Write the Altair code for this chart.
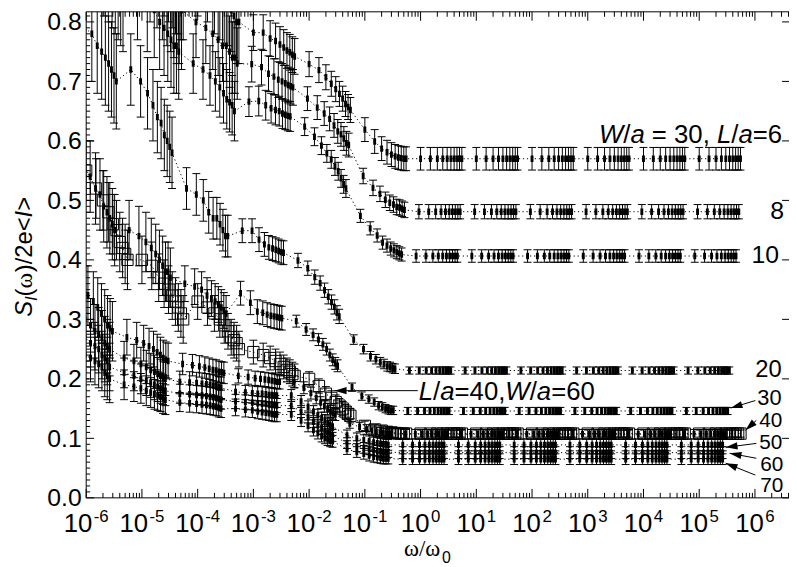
import altair as alt
import pandas as pd
import math

FONT = "Liberation Sans"
SERIF = "Liberation Serif"

# ---------------- data ----------------
FREQ_MULT = [1, 1.5, 2, 2.5, 3, 3.5, 4, 4.5, 5, 5.5]
DECADES = [-6, -5, -4, -3, -2, -1, 0, 1, 2, 3, 4, 5]

SERIES = ["L/a=6", "L/a=8", "L/a=10", "L/a=20", "L/a=30", "L/a=40,W/a=60",
          "L/a=40", "L/a=50", "L/a=60", "L/a=70"]
SERIES_SHIFT = [0.0, -0.03, -0.08, -0.2, -0.23, 0.0, -0.27, -0.32, -0.32, -0.32]
SERIES_MARK = ["bar", "bar", "bar", "bar", "bar", "square", "bar", "bar", "bar", "bar"]

L6_Y = [[1.10, 1.08, 1.06, 1.05, 1.04, 1.03, 1.02, 1.01, 1.00, 0.99],
        [1.00, 0.99, 0.97, 0.96, 0.95, 0.94, 0.93, 0.93, 0.92, 0.92],
        [0.88, 0.87, 0.85, 0.84, 0.83, 0.83, 0.82, 0.81, 0.80, 0.80],
        [0.782, 0.782, 0.772, 0.768, 0.762, 0.757, 0.752, 0.749, 0.745, 0.742],
        [0.729, 0.719, 0.707, 0.696, 0.687, 0.679, 0.671, 0.662, 0.657, 0.652],
        [0.619, 0.599, 0.587, 0.581, 0.577, 0.574, 0.572, 0.571, 0.570, 0.570],
        0.570, 0.570, 0.570, 0.570, 0.570, 0.570]
L6_ERR = [0.12, 0.15, 0.07, 0.03, 0.021, 0.02, 0.019, 0.019, 0.019, 0.019, 0.019, 0.019]

L8_Y = [[1.02, 1.00, 0.99, 0.98, 0.97, 0.96, 0.96, 0.95, 0.95, 0.94],
        [0.92, 0.90, 0.89, 0.87, 0.86, 0.85, 0.84, 0.83, 0.83, 0.82],
        [0.80, 0.79, 0.78, 0.77, 0.76, 0.76, 0.75, 0.74, 0.74, 0.73],
        [0.729, 0.724, 0.713, 0.708, 0.703, 0.700, 0.697, 0.694, 0.692, 0.690],
        [0.671, 0.656, 0.646, 0.637, 0.626, 0.616, 0.611, 0.604, 0.596, 0.593],
        [0.541, 0.521, 0.511, 0.501, 0.496, 0.493, 0.489, 0.488, 0.486, 0.484],
        0.481, 0.481, 0.481, 0.481, 0.481, 0.481]
L8_ERR = [0.12, 0.1, 0.06, 0.03, 0.02, 0.013, 0.012, 0.012, 0.012, 0.012, 0.012, 0.012]

L10_Y = [[0.95, 0.94, 0.92, 0.91, 0.90, 0.89, 0.88, 0.87, 0.86, 0.85],
         [0.85, 0.83, 0.82, 0.80, 0.79, 0.78, 0.77, 0.76, 0.76, 0.75],
         [0.73, 0.72, 0.71, 0.70, 0.69, 0.68, 0.67, 0.665, 0.66, 0.65],
         [0.666, 0.667, 0.660, 0.655, 0.652, 0.650, 0.646, 0.644, 0.642, 0.641],
         [0.624, 0.607, 0.592, 0.579, 0.569, 0.557, 0.549, 0.537, 0.527, 0.520],
         [0.474, 0.453, 0.441, 0.429, 0.424, 0.419, 0.416, 0.413, 0.411, 0.409],
         0.4065, 0.4065, 0.4065, 0.4065, 0.4065, 0.4065]
L10_ERR = [0.1, 0.08, 0.05, 0.025, 0.015, 0.011, 0.0105, 0.0105, 0.0105, 0.0105, 0.0105, 0.0105]

L20_Y = [[0.80, 0.79, 0.78, 0.76, 0.75, 0.74, 0.73, 0.72, 0.71, 0.70],
         [0.72, 0.70, 0.68, 0.66, 0.64, 0.63, 0.61, 0.60, 0.59, 0.58],
         [0.52, 0.51, 0.50, 0.48, 0.47, 0.47, 0.46, 0.45, 0.44, 0.44],
         [0.449, 0.449, 0.434, 0.426, 0.421, 0.419, 0.417, 0.415, 0.413, 0.412],
         [0.399, 0.386, 0.371, 0.361, 0.349, 0.338, 0.329, 0.321, 0.311, 0.305],
         [0.266, 0.250, 0.238, 0.233, 0.228, 0.225, 0.221, 0.220, 0.218, 0.217],
         0.214, 0.214, 0.214, 0.214, 0.214, 0.214]
L20_ERR = [0.08, 0.06, 0.035, 0.02, 0.012, 0.008, 0.006, 0.006, 0.006, 0.006, 0.006, 0.006]

L30_Y = [[0.58, 0.56, 0.54, 0.52, 0.51, 0.49, 0.48, 0.47, 0.46, 0.45],
         [0.45, 0.44, 0.43, 0.42, 0.41, 0.40, 0.39, 0.38, 0.38, 0.37],
         [0.36, 0.355, 0.35, 0.34, 0.335, 0.33, 0.325, 0.32, 0.315, 0.31],
         [0.344, 0.328, 0.313, 0.311, 0.308, 0.306, 0.305, 0.304, 0.303, 0.302],
         [0.297, 0.283, 0.274, 0.266, 0.258, 0.250, 0.240, 0.232, 0.226, 0.222],
         [0.186, 0.171, 0.166, 0.161, 0.155, 0.153, 0.150, 0.148, 0.147, 0.147],
         0.146, 0.146, 0.146, 0.146, 0.146, 0.146]
L30_ERR = [0.06, 0.05, 0.03, 0.02, 0.01, 0.007, 0.006, 0.006, 0.006, 0.006, 0.006, 0.006]

L40W60_Y = [[0.55, 0.52, 0.50, 0.48, 0.46, 0.45, 0.43, 0.42, 0.41, 0.40],
            [0.40, 0.39, 0.37, 0.36, 0.35, 0.34, 0.33, 0.32, 0.31, 0.30],
            [0.33, 0.32, 0.31, 0.30, 0.29, 0.28, 0.27, 0.265, 0.26, 0.25],
            [0.245, 0.24, 0.235, 0.23, 0.225, 0.22, 0.215, 0.212, 0.208, 0.205],
            [0.200, 0.188, 0.175, 0.168, 0.161, 0.155, 0.150, 0.145, 0.141, 0.138],
            [0.121, 0.115, 0.113, 0.111, 0.110, 0.109, 0.108, 0.108, 0.108, 0.108],
            0.108, 0.108, 0.108, 0.108, 0.108, 0.108]
L40W60_ERR = [0.05, 0.04, 0.03, 0.02, 0.012, 0.008, 0.006, 0.006, 0.006, 0.006, 0.006, 0.006]

L40_Y = [[0.36, 0.35, 0.34, 0.33, 0.32, 0.31, 0.30, 0.29, 0.285, 0.28],
         [0.27, 0.265, 0.26, 0.255, 0.25, 0.245, 0.24, 0.235, 0.232, 0.23],
         [0.225, 0.223, 0.221, 0.219, 0.217, 0.215, 0.214, 0.212, 0.211, 0.21],
         [0.205, 0.203, 0.201, 0.200, 0.199, 0.198, 0.197, 0.196, 0.195, 0.195],
         [0.195, 0.185, 0.176, 0.168, 0.160, 0.154, 0.149, 0.145, 0.142, 0.140],
         [0.125, 0.119, 0.115, 0.113, 0.111, 0.110, 0.109, 0.108, 0.108, 0.108],
         0.107, 0.107, 0.107, 0.107, 0.107, 0.107]
L40_ERR = [0.05, 0.03, 0.018, 0.012, 0.01, 0.008, 0.008, 0.008, 0.008, 0.008, 0.008, 0.008]

L50_Y = [[0.32, 0.31, 0.30, 0.29, 0.28, 0.275, 0.27, 0.26, 0.255, 0.25],
         [0.235, 0.23, 0.225, 0.22, 0.215, 0.212, 0.208, 0.205, 0.202, 0.20],
         [0.195, 0.194, 0.193, 0.192, 0.191, 0.19, 0.189, 0.188, 0.186, 0.185],
         [0.178, 0.177, 0.176, 0.175, 0.175, 0.174, 0.173, 0.173, 0.172, 0.172],
         [0.172, 0.162, 0.153, 0.145, 0.139, 0.134, 0.130, 0.126, 0.123, 0.120],
         [0.105, 0.100, 0.097, 0.095, 0.093, 0.092, 0.091, 0.090, 0.090, 0.089],
         0.089, 0.089, 0.089, 0.089, 0.089, 0.089]
L50_ERR = [0.045, 0.028, 0.018, 0.012, 0.01, 0.009, 0.01, 0.01, 0.01, 0.01, 0.01, 0.01]

L60_Y = [[0.29, 0.28, 0.27, 0.26, 0.255, 0.25, 0.24, 0.235, 0.23, 0.22],
         [0.21, 0.205, 0.20, 0.197, 0.194, 0.19, 0.187, 0.184, 0.182, 0.18],
         [0.175, 0.174, 0.173, 0.172, 0.171, 0.17, 0.169, 0.168, 0.166, 0.165],
         [0.162, 0.161, 0.160, 0.159, 0.158, 0.158, 0.157, 0.156, 0.156, 0.155],
         [0.155, 0.145, 0.136, 0.128, 0.122, 0.117, 0.113, 0.110, 0.107, 0.105],
         [0.092, 0.087, 0.084, 0.082, 0.080, 0.079, 0.078, 0.077, 0.077, 0.077],
         0.076, 0.076, 0.076, 0.076, 0.076, 0.076]
L60_ERR = [0.04, 0.025, 0.016, 0.012, 0.01, 0.009, 0.01, 0.01, 0.01, 0.01, 0.01, 0.01]

L70_Y = [[0.26, 0.25, 0.24, 0.235, 0.23, 0.225, 0.22, 0.21, 0.205, 0.20],
         [0.19, 0.187, 0.184, 0.18, 0.177, 0.174, 0.172, 0.17, 0.167, 0.165],
         [0.16, 0.159, 0.158, 0.157, 0.156, 0.155, 0.154, 0.153, 0.151, 0.15],
         [0.150, 0.148, 0.147, 0.145, 0.144, 0.143, 0.142, 0.141, 0.140, 0.140],
         [0.140, 0.130, 0.121, 0.114, 0.109, 0.104, 0.101, 0.098, 0.096, 0.095],
         [0.082, 0.077, 0.074, 0.071, 0.069, 0.068, 0.067, 0.066, 0.066, 0.066],
         0.065, 0.065, 0.065, 0.065, 0.065, 0.065]
L70_ERR = [0.04, 0.025, 0.015, 0.012, 0.01, 0.009, 0.009, 0.009, 0.009, 0.009, 0.009, 0.009]

SERIES_Y = [L6_Y, L8_Y, L10_Y, L20_Y, L30_Y, L40W60_Y, L40_Y, L50_Y, L60_Y, L70_Y]
SERIES_ERR = [L6_ERR, L8_ERR, L10_ERR, L20_ERR, L30_ERR, L40W60_ERR, L40_ERR, L50_ERR, L60_ERR, L70_ERR]

Y_TICKS = [0.0, 0.1, 0.2, 0.3, 0.4, 0.5, 0.6, 0.7, 0.8]
X_EXPONENTS = [-6, -5, -4, -3, -2, -1, 0, 1, 2, 3, 4, 5, 6]
END_LABELS = ["8", "10", "20", "30", "40", "50", "60", "70"]

# ---------------- layout ----------------
OX, OY = 87, 9            # page position of plot origin
W, H = 710, 491           # plot area
DEC = 56.3                # pixels per decade
XMAX = 10 ** (-6 + W / DEC)
YMAX = H / 601.0

rows = []
for name, shift, ys, errs, kind in zip(SERIES, SERIES_SHIFT, SERIES_Y, SERIES_ERR, SERIES_MARK):
    for k, yv, ev in zip(DECADES, ys, errs):
        vals = yv if isinstance(yv, list) else [yv] * len(FREQ_MULT)
        for m, v in zip(FREQ_MULT, vals):
            f = m * 10 ** (k + shift)
            rows.append(dict(series=name, kind=kind, f=f, v=v, lo=v - ev, hi=v + ev))
df = pd.DataFrame(rows)

XS = alt.Scale(type="log", domain=[1e-6, XMAX], nice=False)
YS = alt.Scale(domain=[0, YMAX], nice=False, zero=False)
YAXIS = alt.Axis(values=Y_TICKS, format=".1f", labelFont=FONT, labelFontSize=25,
                 labelColor="black", labelPadding=5, ticks=False, domain=False,
                 grid=False, title=None, labelOverlap=False)

def xenc(field):
    return alt.X(field, type="quantitative", scale=XS, axis=None)

def yenc(field):
    return alt.Y(field, type="quantitative", scale=YS, axis=YAXIS)

layers = []
base = alt.Chart(df)

# dotted connecting lines
layers.append(base.mark_line(color="black", strokeWidth=1, strokeDash=[1.2, 2.8], clip=True).encode(
    x=xenc("f"), y=yenc("v"), detail="series:N", order="f:Q"))
# error bars
layers.append(base.mark_rule(color="black", strokeWidth=1, clip=True).encode(
    x=xenc("f"), y=yenc("lo"), y2=alt.Y2("hi")))
for fld in ["lo", "hi"]:
    layers.append(base.mark_point(shape="stroke", size=64, color="black", strokeWidth=1,
                                  opacity=1, clip=True).encode(x=xenc("f"), y=yenc(fld)))
# markers
bars = base.transform_filter(alt.datum.kind == "bar")
layers.append(bars.mark_point(shape="M-0.45,-1L0.45,-1L0.45,1L-0.45,1Z", size=42, filled=True,
                              color="black", opacity=1, clip=True).encode(x=xenc("f"), y=yenc("v")))
sq = base.transform_filter(alt.datum.kind == "square")
layers.append(sq.mark_point(shape="square", size=130, filled=False, color="black",
                            strokeWidth=1, opacity=1, clip=True).encode(x=xenc("f"), y=yenc("v")))

# ---------------- frame and inward ticks ----------------
DUMMY = pd.DataFrame({"d": [0]})
def hline(x1, x2, y):
    return alt.Chart(DUMMY).mark_rule(color="black", strokeWidth=1).encode(
        x=alt.value(x1), x2=alt.value(x2), y=alt.value(y))
def vline(x, y1, y2):
    return alt.Chart(DUMMY).mark_rule(color="black", strokeWidth=1).encode(
        x=alt.value(x), y=alt.value(y1), y2=alt.value(y2))

layers += [hline(0, W, H), hline(0, W, 0), vline(0, 0, H)]

y_major = pd.DataFrame({"t": Y_TICKS})
y_minor = pd.DataFrame({"t": [i / 100 for i in range(1, 82) if i % 10 != 0]})
layers.append(alt.Chart(y_major).mark_rule(color="black").encode(y=yenc("t"), x=alt.value(0), x2=alt.value(8)))
layers.append(alt.Chart(y_minor).mark_rule(color="black").encode(y=yenc("t"), x=alt.value(0), x2=alt.value(4)))
layers.append(alt.Chart(y_major).mark_rule(color="black").encode(y=yenc("t"), x=alt.value(W - 7), x2=alt.value(W)))

x_major = pd.DataFrame({"t": [10.0 ** k for k in X_EXPONENTS]})
x_minor = pd.DataFrame({"t": [m * 10.0 ** k for k in X_EXPONENTS for m in range(2, 10) if m * 10.0 ** k < XMAX]})
for y1, y2a, y2b in [(H, H - 9, H - 5), (0, 9, 5)]:
    layers.append(alt.Chart(x_major).mark_rule(color="black").encode(x=xenc("t"), y=alt.value(y1), y2=alt.value(y2a)))
    layers.append(alt.Chart(x_minor).mark_rule(color="black").encode(x=xenc("t"), y=alt.value(y1), y2=alt.value(y2b)))

# ---------------- text helpers ----------------
WID = {' ': 278, ',': 278, '/': 278, '=': 584, 'W': 944, 'a': 556, 'L': 556, 'S': 667, 'I': 278,
       '(': 333, ')': 333, 'e': 556, '<': 584, '>': 584, '-': 333, '.': 278, 'ω': 690}
def tw(s, size):
    return sum(WID.get(c, 556) for c in s) * size / 1000.0

def txt(s, px, py, size=26, italic=False, font=FONT, align="left", angle=0):
    return alt.Chart(DUMMY).mark_text(text=s, font=font, fontSize=size,
                                      fontStyle="italic" if italic else "normal",
                                      align=align, baseline="alphabetic", angle=angle,
                                      color="black").encode(x=alt.value(px), y=alt.value(py))

def rich(pieces, x0, y0, size=26):
    out = []
    x = x0
    for s, it in pieces:
        lead = len(s) - len(s.lstrip(" "))
        out.append(txt(s.strip(" "), x + tw(" " * lead, size) - OX, y0 - OY, size=size, italic=it))
        x += tw(s, size)
    return out

# x tick labels: "10" + superscript exponent, centred on the decade
GAP = 1.5
lab_rows = []
for k in X_EXPONENTS:
    e = str(k)
    w10, we = tw("10", 26), tw(e, 17)
    join = k + (w10 - (w10 + we + GAP) / 2) / DEC
    lab_rows.append(dict(j=10 ** join, je=10 ** (join + GAP / DEC), e=e))
lab_df = pd.DataFrame(lab_rows)
layers.append(alt.Chart(lab_df).mark_text(text="10", font=FONT, fontSize=26, align="right",
                                          baseline="alphabetic", color="black").encode(
    x=xenc("j"), y=alt.value(535 - OY)))
layers.append(alt.Chart(lab_df).mark_text(font=FONT, fontSize=17, align="left",
                                          baseline="alphabetic", color="black").encode(
    x=xenc("je"), y=alt.value(524 - OY), text="e:N"))

# x title
layers.append(txt("ω/ω", 408 - OX, 559 - OY, size=23, font=SERIF))
layers.append(txt("0", 408 + 38.5 - OX, 566 - OY, size=16))

# y title (rotated pieces, reading upward)
yb, xb = 317, 32
ypieces = [("S", 24, True, FONT, 0), ("I", 16, True, FONT, 5), ("(", 24, False, FONT, 0),
           ("ω", 24, False, SERIF, 0), (")/2e<", 24, False, FONT, 0), ("I", 24, True, FONT, 0),
           (">", 24, False, FONT, 0)]
for s, sz, it, fnt, dx in ypieces:
    layers.append(txt(s, xb + dx - OX, yb - OY, size=sz, italic=it, font=fnt, angle=270))
    yb -= tw(s, sz) if s != "ω" else 16.5

# annotations
layers += rich([("W", True), ("/", False), ("a", True), (" = 30, ", False), ("L", True),
                ("/", False), ("a", True), ("=6", False)], 605, 141.5)
layers += rich([("L", True), ("/", False), ("a", True), ("=40,", False), ("W", True),
                ("/", False), ("a", True), ("=60", False)], 423, 401)
END_POS = [(778, 218, 25), (759, 263, 25), (763, 378, 24), (765, 406, 22), (767, 428, 21),
           (767, 450.5, 21), (768, 472.5, 21), (768, 494.5, 21)]
for s, (px, py, sz) in zip(END_LABELS, END_POS):
    layers.append(txt(s, px - OX, py - OY, size=sz))

# arrows: (tail x, tail y, tip x, tip y) in page pixels
ARROWS = [(422, 391.7, 338, 391.7), (763, 401.7, 738, 409.3), (764, 421.7, 753, 431.7),
          (764, 445, 733, 449), (764, 460, 737, 455), (763, 477, 733, 465)]
ARROW_HEAD = "M-1,0L1,-0.6L1,0.6Z"
for tx, ty, hx, hy in ARROWS:
    layers.append(alt.Chart(DUMMY).mark_rule(color="black", strokeWidth=1).encode(
        x=alt.value(tx - OX), y=alt.value(ty - OY), x2=alt.value(hx - OX), y2=alt.value(hy - OY)))
    dx, dy = hx - tx, hy - ty
    L = math.hypot(dx, dy)
    ux, uy = dx / L, dy / L
    ang = math.degrees(math.atan2(-uy, -ux)) % 360
    r = 6
    cx, cy = hx - ux * r, hy - uy * r
    layers.append(alt.Chart(DUMMY).mark_point(shape=ARROW_HEAD, size=(2 * r) ** 2, filled=True,
                                              color="black", opacity=1, angle=ang).encode(
        x=alt.value(cx - OX), y=alt.value(cy - OY)))

chart = alt.layer(*layers).properties(
    width=W, height=H,
    autosize=alt.AutoSizeParams(type="none"),
    padding={"left": OX - 8, "top": OY - 8, "right": 0, "bottom": 67},
).configure_view(stroke=None)

chart.save("out.html", embed_options={"renderer": "svg", "actions": False})
